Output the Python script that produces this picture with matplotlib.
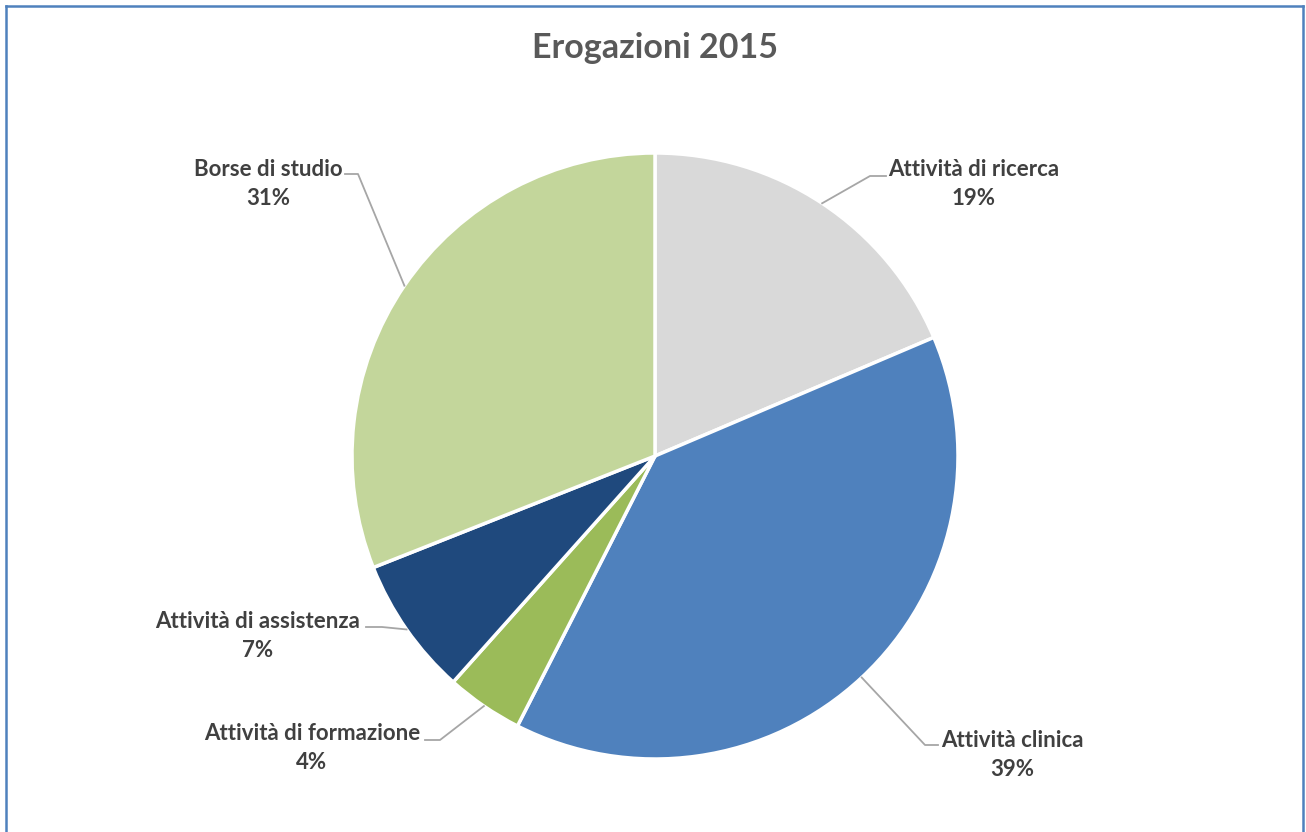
import numpy as np
import matplotlib.pyplot as plt
from matplotlib.lines import Line2D


# data
categories = [
    "Attività di ricerca",
    "Attività clinica",
    "Attività di formazione",
    "Attività di assistenza",
    "Borse di studio",
]
shares = [18.6, 38.9, 4.1, 7.4, 31.0]
colors = ["#D9D9D9", "#4F81BD", "#9BBB59", "#1F497D", "#C3D69B"]

# label text centre (pixels from top-left) and elbow of the leader line
LABEL_POS = {
    "Attività di ricerca": ((974, 184), (870, 176), (886, 176)),
    "Attività clinica": ((1012, 755), (925, 745), (938, 745)),
    "Attività di formazione": ((312, 748), (440, 740), (425, 740)),
    "Attività di assistenza": ((258, 636), (382, 627), (366, 627)),
    "Borse di studio": ((268, 184), (358, 174), (345, 174)),
}

W, H = 1306, 832
CX, CY, R = 655, 456, 303
TEXT = "#404040"
LEADER = "#A6A6A6"

plt.rcParams["font.family"] = ["Lato", "DejaVu Sans"]

fig = plt.figure(figsize=(W / 100, H / 100), dpi=100)
ax = fig.add_axes([0, 0, 1, 1])

wedges, _ = ax.pie(
    shares,
    colors=colors,
    startangle=90,
    counterclock=False,
    center=(CX, H - CY),
    radius=R,
    wedgeprops=dict(edgecolor="white", linewidth=2.5),
    frame=True,
)
ax.set_xlim(0, W)
ax.set_ylim(0, H)
ax.set_aspect("equal")
ax.axis("off")

for w, name, val in zip(wedges, categories, shares):
    mid = np.deg2rad((w.theta1 + w.theta2) / 2)
    x0 = CX + R * np.cos(mid)
    y0 = (H - CY) + R * np.sin(mid)
    (tx, ty), (ex, ey), (hx, hy) = LABEL_POS[name]
    ax.plot([x0, ex, hx], [y0, H - ey, H - hy], color=LEADER, lw=1.3, zorder=1)
    ax.text(tx, H - ty, f"{name}\n{round(val):.0f}%", ha="center", va="center",
            fontsize=16, fontweight="bold", color=TEXT, linespacing=1.45)

ax.text(W / 2 + 2, H - 48, "Erogazioni 2015", ha="center", va="center",
        fontsize=24.5, fontweight="bold", color="#595959")

# chart frame
for xs, ys in [([6, 6], [0, H - 6]), ([6, W - 3], [H - 6, H - 6]), ([W - 3, W - 3], [H - 6, 0])]:
    fig.add_artist(Line2D(np.array(xs) / W, np.array(ys) / H, color="#4F81BD", lw=1.8))

fig.savefig("out.png", dpi=100)
